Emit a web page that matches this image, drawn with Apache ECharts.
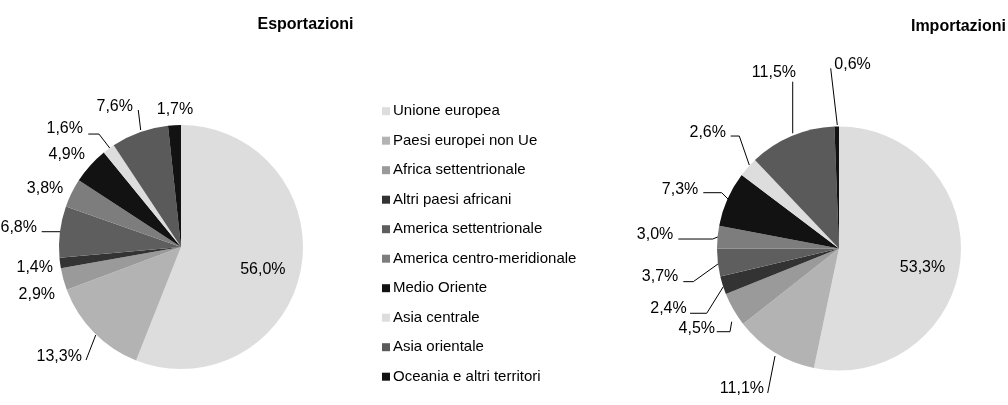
<!DOCTYPE html>
<html>
<head>
<meta charset="utf-8">
<script src="https://cdn.jsdelivr.net/npm/echarts@6/dist/echarts.min.js"></script>
<style>
  html, body { margin: 0; padding: 0; background: #fff; }
  #chart { width: 1008px; height: 405px; }
</style>
</head>
<body>
<div id="chart"></div>
<script>
// Aree geografiche (ordine di disegno in senso orario dalle ore 12)
const categories = [
  'Unione europea',
  'Paesi europei non Ue',
  'Africa settentrionale',
  'Altri paesi africani',
  'America settentrionale',
  'America centro-meridionale',
  'Medio Oriente',
  'Asia centrale',
  'Asia orientale',
  'Oceania e altri territori'
];

// Quote percentuali
const exportValues = [56.0, 13.3, 2.9, 1.4, 6.8, 3.8, 4.9, 1.6, 7.6, 1.7];
const importValues = [53.3, 11.1, 4.5, 2.4, 3.7, 3.0, 7.3, 2.6, 11.5, 0.6];

// Toni di grigio per area
const sliceColors = [
  '#dddddd', '#b3b3b3', '#9a9a9a', '#333333', '#5e5e5e',
  '#7d7d7d', '#121212', '#dddddd', '#5a5a5a', '#121212'
];

// Geometria delle due torte (px)
const pieGeom = [
  { center: [181, 247], r: 122 },
  { center: [839, 248.5], r: 122 }
];

// Posizione delle etichette rispetto al punto medio del bordo di ogni fetta:
// [dx, dy, allineamento, punti della linea guida (offset) oppure null]
const exportLabelPlacement = [
  [-38, 0, 'center', null],
  [-12, 24.6, 'right', [[1.8, 2.6], [-7.9, 27.6]]],
  [-8.3, 15.8, 'right', null],
  [-7.1, 4.9, 'right', null],
  [-23, -3.7, 'right', [[1.7, 0], [-18.3, 0]]],
  [-8.3, -4.7, 'right', null],
  [-5.3, -10.5, 'right', null],
  [-25.7, -20.4, 'right', [[1.3, -0.4], [-9.7, -14.7], [-20.4, -14.7]]],
  [-6.7, -25.5, 'right', [[1, -2.2], [-1.4, -22.2]]],
  [0.5, -15.2, 'center', null]
];
const importLabelPlacement = [
  [-37.8, 6.9, 'center', null],
  [-10.6, 36.2, 'right', [[0.4, 3.9], [-6.9, 40.9]]],
  [-18.4, 18.7, 'right', [[-1.7, 12.1], [-3.4, 22.1], [-16.7, 22.1]]],
  [-36, 22.8, 'right', [[0.6, 1.2], [-16, 27.8], [-32.7, 27.8]]],
  [-39.5, 14, 'right', [[1.2, 0.6], [-24.5, 19], [-34.5, 19]]],
  [-44.2, -2, 'right', [[0.8, -0.3], [-4.8, 2], [-39.2, 2]]],
  [-29.2, -9.7, 'right', [[0.8, 0.3], [-5.8, -6.3], [-24.2, -6.3]]],
  [-22, -34.5, 'right', [[1.3, -2.2], [-8.7, -31.2], [-17.3, -31.2]]],
  [4.4, -63.4, 'right', [[1.1, -2.8], [1.1, -54.4]]],
  [-2.4, -61.5, 'left', [[0.6, -1.5], [-6, -58.2]]]
];

const fmt = v => v.toFixed(1).replace('.', ',') + '%';
const FONT = 'Liberation Sans, Arial, sans-serif';

// Punto sul bordo della fetta, a metà del suo angolo
function edgePoint(values, geom, idx) {
  const total = values.reduce((a, b) => a + b, 0);
  let before = 0;
  for (let k = 0; k < idx; k++) before += values[k];
  const mid = (before + values[idx] / 2) / total * 2 * Math.PI;
  return [geom.center[0] + geom.r * Math.sin(mid), geom.center[1] - geom.r * Math.cos(mid)];
}

function buildSeries(values, geom, placement) {
  return {
    type: 'pie',
    center: geom.center,
    radius: geom.r,
    startAngle: 90,
    clockwise: true,
    avoidLabelOverlap: false,
    silent: true,
    animation: false,
    label: {
      show: true,
      position: 'outside',
      formatter: p => fmt(p.value),
      fontFamily: FONT,
      fontSize: 16,
      color: '#000'
    },
    labelLine: {
      show: true,
      smooth: false,
      lineStyle: { color: '#000', width: 1 }
    },
    labelLayout: params => {
      const i = params.dataIndex;
      const e = edgePoint(values, geom, i);
      const pl = placement[i];
      const out = {
        x: e[0] + pl[0],
        y: e[1] + pl[1],
        align: pl[2],
        verticalAlign: 'middle'
      };
      if (pl[3]) out.labelLinePoints = pl[3].map(o => [e[0] + o[0], e[1] + o[1]]);
      return out;
    },
    data: values.map((v, i) => ({
      name: categories[i],
      value: v,
      itemStyle: { color: sliceColors[i] },
      labelLine: { show: !!placement[i][3] }
    }))
  };
}

const chart = echarts.init(document.getElementById('chart'), null, { renderer: 'canvas' });
chart.setOption({
  backgroundColor: '#ffffff',
  animation: false,
  title: [
    {
      text: 'Esportazioni',
      left: 305.5, top: 25, padding: 0, textAlign: 'center', textVerticalAlign: 'middle',
      textStyle: { fontFamily: FONT, fontSize: 16, fontWeight: 'bold', color: '#000' }
    },
    {
      text: 'Importazioni',
      left: 958.5, top: 27, padding: 0, textAlign: 'center', textVerticalAlign: 'middle',
      textStyle: { fontFamily: FONT, fontSize: 16, fontWeight: 'bold', color: '#000' }
    }
  ],
  legend: {
    orient: 'vertical',
    left: 377,
    top: 98.7,
    data: categories,
    icon: 'rect',
    itemWidth: 8,
    itemHeight: 8,
    itemGap: 14.5,
    selectedMode: false,
    textStyle: { fontFamily: FONT, fontSize: 15, color: '#000', padding: [0, 0, 0, -2] }
  },
  series: [
    buildSeries(exportValues, pieGeom[0], exportLabelPlacement),
    buildSeries(importValues, pieGeom[1], importLabelPlacement)
  ]
});
</script>
</body>
</html>
